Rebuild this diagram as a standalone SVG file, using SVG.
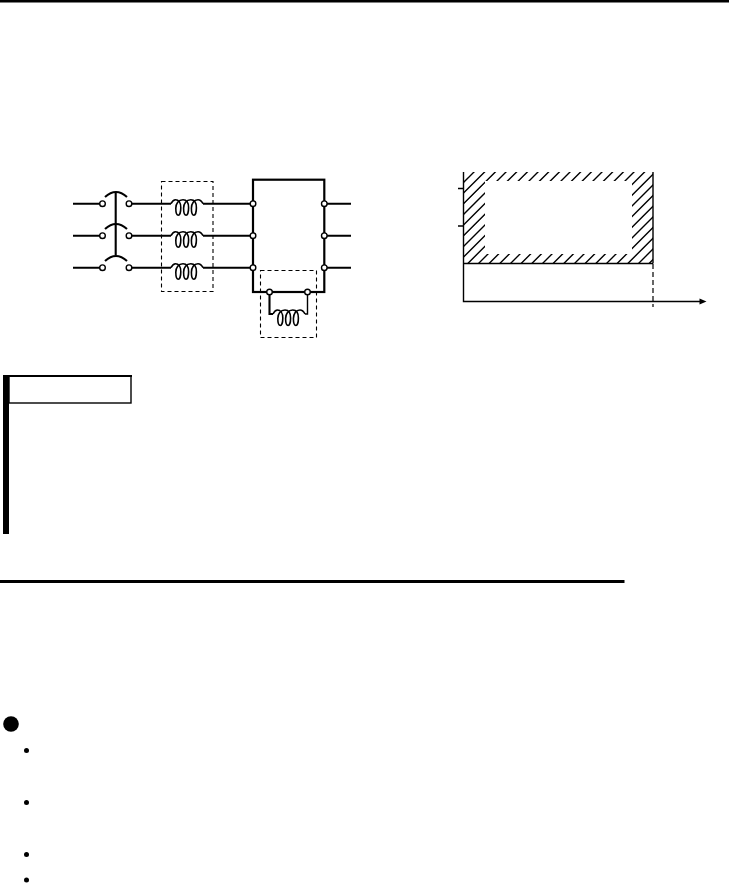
<svg xmlns="http://www.w3.org/2000/svg" xmlns:xlink="http://www.w3.org/1999/xlink" width="729" height="883" viewBox="0 0 729 883">
<style>
.w{fill:none;stroke:#000;stroke-width:2.1}
.t{fill:none;stroke:#000;stroke-width:1.4}
.c{fill:none;stroke:#000;stroke-width:1.6}
.d{fill:none;stroke:#000;stroke-width:1.1;stroke-dasharray:4 3}
.o{fill:#fff;stroke:#000;stroke-width:1.4}
.k{fill:#000}
</style>
<defs>
<clipPath id="band"><path clip-rule="evenodd" d="M463.5 172H653V263.5H463.5ZM485 181V254H632V181Z"/></clipPath>
<path id="coil" class="c" d="M0 0C1.5 -3 3 -4 4.5 -4C7.5 -4 9.8 -1 9.8 4C9.8 8 8.8 11.5 7.3 11.5C5.8 11.5 4.8 8 4.8 4.5C4.8 0 7.5 -4 12 -4C15.5 -4 17.6 -1 17.6 4C17.6 8 16.6 11.5 15.1 11.5C13.6 11.5 12.6 8 12.6 4.5C12.6 0 15.3 -4 19.8 -4C23.3 -4 25.4 -1 25.4 4C25.4 8 24.4 11.5 22.9 11.5C21.4 11.5 20.4 8 20.4 4.5C20.4 0 23 -4 27 -4C29 -4 30.5 -3 32 0"/>
</defs>
<rect width="729" height="883" fill="#fff"/>
<rect id="top-rule" class="k" x="0" y="0" width="729" height="2.5"/>

<g id="connectors">
<path class="w" d="M73 203.7H101M73 235.7H101M73 267.7H101"/>
<path class="w" d="M130 203.7H171M130 235.7H171M130 267.7H171"/>
<path class="w" d="M203 203.7H253M203 235.7H253M203 267.7H253"/>
<path class="w" d="M324.3 203.7H351M324.3 235.7H351M324.3 267.7H351"/>
<path class="w" d="M115.7 192V255"/>
<path class="w" d="M269.5 292V314H273"/>
<path class="t" d="M307.5 292V314H305"/>
</g>

<g id="breaker">
<path class="w" d="M105 197Q116 187 127 197"/>
<path class="w" d="M105 229Q116 219 127 229"/>
<path class="w" d="M105 261Q116 251 127 261"/>
<circle class="o" cx="102.5" cy="203.7" r="2.8"/><circle class="o" cx="129" cy="203.7" r="2.8"/>
<circle class="o" cx="102.5" cy="235.7" r="2.8"/><circle class="o" cx="129" cy="235.7" r="2.8"/>
<circle class="o" cx="102.5" cy="267.7" r="2.8"/><circle class="o" cx="129" cy="267.7" r="2.8"/>
</g>

<g id="input-reactor">
<rect class="d" x="161.5" y="181.5" width="51.5" height="110"/>
<use xlink:href="#coil" x="171" y="203.7"/>
<use xlink:href="#coil" x="171" y="235.7"/>
<use xlink:href="#coil" x="171" y="267.7"/>
</g>

<g id="inverter">
<rect x="253" y="179.7" width="71.3" height="112.3" fill="none" stroke="#000" stroke-width="2.2"/>
<circle class="o" cx="253" cy="203.7" r="2.8"/><circle class="o" cx="253" cy="235.7" r="2.8"/><circle class="o" cx="253" cy="267.7" r="2.8"/>
<circle class="o" cx="324.3" cy="203.7" r="2.8"/><circle class="o" cx="324.3" cy="235.7" r="2.8"/><circle class="o" cx="324.3" cy="267.7" r="2.8"/>
</g>

<g id="dc-reactor">
<rect class="d" x="260.5" y="270.5" width="56" height="67"/>
<use xlink:href="#coil" x="273" y="314"/>
<circle class="o" cx="269.5" cy="292" r="2.8"/><circle class="o" cx="307.5" cy="292" r="2.8"/>
</g>

<g id="chart">
<g clip-path="url(#band)">
<path fill="none" stroke="#000" stroke-width="1.4" d="M463 172.3l191 -191M463 183l191 -191M463 193.6l191 -191M463 204.3l191 -191M463 215l191 -191M463 225.6l191 -191M463 236.3l191 -191M463 247l191 -191M463 257.6l191 -191M463 268.3l191 -191M463 279l191 -191M463 289.6l191 -191M463 300.3l191 -191M463 311l191 -191M463 321.6l191 -191M463 332.3l191 -191M463 343l191 -191M463 353.6l191 -191M463 364.3l191 -191M463 375l191 -191M463 385.6l191 -191M463 396.3l191 -191M463 407l191 -191M463 417.6l191 -191M463 428.3l191 -191M463 439l191 -191M463 449.6l191 -191"/>
</g>
<path class="t" d="M463.5 172V301.5H702"/>
<path class="t" d="M653 172V263.5"/>
<path class="t" d="M463.5 263.5H653"/>
<path class="t" d="M458 188.5H463.5M458 226H463.5"/>
<path d="M653 264V307" fill="none" stroke="#000" stroke-width="1.2" stroke-dasharray="5 3"/>
<path class="k" d="M699.5 298.5L706.5 301.5L699.5 304.5Z"/>
</g>

<g id="note-box">
<rect class="k" x="3" y="375" width="6" height="159"/>
<rect x="9" y="376" width="122" height="27" fill="#fff" stroke="#000" stroke-width="1.4"/>
<rect class="k" x="3" y="375" width="129" height="2"/>
</g>

<rect id="section-rule" class="k" x="0" y="580" width="624.5" height="3"/>

<g id="bullets">
<circle class="k" cx="11" cy="724" r="7.8"/>
<circle class="k" cx="26.5" cy="750.5" r="2.5"/>
<circle class="k" cx="26.5" cy="802.5" r="2.5"/>
<circle class="k" cx="26.5" cy="854.5" r="2.5"/>
<circle class="k" cx="26.5" cy="880" r="2.5"/>
</g>
</svg>
